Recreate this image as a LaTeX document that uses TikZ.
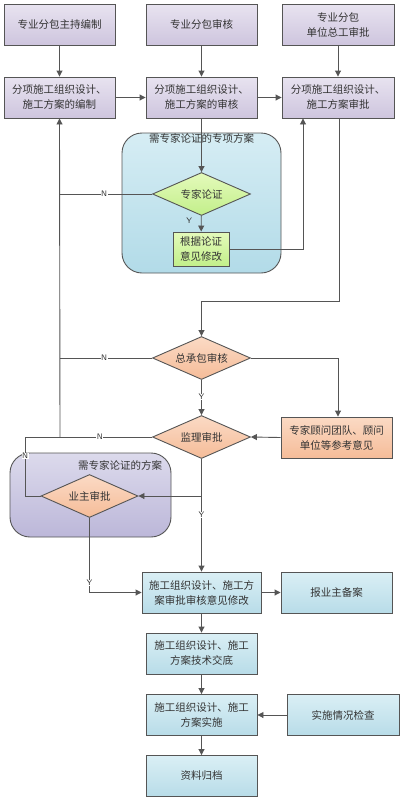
\documentclass[tikz,border=0pt]{standalone}
\usepackage{fontspec}
\setmainfont{Noto Sans CJK SC}
\usetikzlibrary{shapes.geometric,arrows.meta}
\definecolor{ln}{HTML}{555555}
\definecolor{tx}{HTML}{333333}
\definecolor{puT}{HTML}{E8E3F0}
\definecolor{puB}{HTML}{CEC5DE}
\definecolor{blT}{HTML}{DAEFF5}
\definecolor{blB}{HTML}{B8DCE8}
\definecolor{saT}{HTML}{FBDAC4}
\definecolor{saB}{HTML}{F5BC99}
\definecolor{grT}{HTML}{E4FABB}
\definecolor{grB}{HTML}{C2EF8A}
\definecolor{g1T}{HTML}{D6EDF4}
\definecolor{g1B}{HTML}{B2DBE8}
\definecolor{g2T}{HTML}{DCDAEC}
\definecolor{g2B}{HTML}{BCB7D9}
\tikzset{
  box/.style={draw=ln,line width=0.9pt,minimum width=111pt,minimum height=41pt,inner sep=1pt,
    align=center,text=tx,font=\fontsize{10.5}{15}\selectfont},
  purp/.style={box,top color=puT,bottom color=puB},
  blu/.style={box,top color=blT,bottom color=blB},
  grn/.style={box,top color=grT,bottom color=grB},
  sal/.style={box,top color=saT,bottom color=saB},
  dia/.style={diamond,aspect=2.3,draw=ln,line width=0.9pt,minimum width=98pt,minimum height=43pt,inner sep=0pt,
    text=tx,font=\fontsize{10.5}{15}\selectfont},
  sdia/.style={dia,top color=saT,bottom color=saB},
  grp/.style={draw=ln,line width=0.9pt,rounded corners=20pt},
  conn/.style={draw=ln,line width=0.9pt},
  arr/.style={conn,-{Triangle[length=6pt,width=6pt]}},
  yn/.style={fill=white,inner sep=0.5pt,font=\sffamily\fontsize{8}{8}\selectfont,text=tx},
}
\begin{document}
\begin{tikzpicture}[x=1pt,y=-1pt]
\useasboundingbox (0,0) rectangle (403,801);
% containers
\node[grp,top color=g1T,bottom color=g1B,minimum width=159pt,minimum height=140pt] (G1) at (201.5,203) {};
\node[text=tx,font=\fontsize{10.5}{12}\selectfont] (G1l) at (201.5,138) {需专家论证的专项方案};
\node[grp,top color=g2T,bottom color=g2B,minimum width=161pt,minimum height=84pt] (G2) at (90.5,495) {};
\node[text=tx,font=\fontsize{10.5}{12}\selectfont] (G2l) at (120,465) {需专家论证的方案};
% top row
\node[purp] (A1) at (59.5,24.5) {专业分包主持编制};
\node[purp] (A2) at (201.5,24.5) {专业分包审核};
\node[purp,minimum width=112pt] (A3) at (338,24.5) {专业分包\\单位总工审批};
\node[purp] (B1) at (59.5,97.5) {分项施工组织设计、\\施工方案的编制};
\node[purp] (B2) at (201.5,97.5) {分项施工组织设计、\\施工方案的审核};
\node[purp,minimum width=112pt] (B3) at (338,97.5) {分项施工组织设计、\\施工方案审批};
% expert section
\node[dia,top color=grT,bottom color=grB] (D1) at (201.5,194) {专家论证};
\node[grn,minimum width=56pt,minimum height=34pt] (M1) at (201,249) {根据论证\\意见修改};
% decisions
\node[sdia] (D2) at (201.5,358) {总承包审核};
\node[sal,minimum width=111pt] (X) at (336.5,437.5) {专家顾问团队、顾问\\单位等参考意见};
\node[sdia] (D3) at (201.5,437) {监理审批};
\node[sdia,minimum width=97pt] (D4) at (89.5,496) {业主审批};
% bottom
\node[blu,minimum width=119pt] (C1) at (201.5,592.5) {施工组织设计、施工方\\案审批审核意见修改};
\node[blu] (C2) at (336.5,592.5) {报业主备案};
\node[blu] (D) at (201.5,653.5) {施工组织设计、施工\\方案技术交底};
\node[blu] (E) at (201.5,715) {施工组织设计、施工\\方案实施};
\node[blu,minimum width=112pt] (E2) at (343,715) {实施情况检查};
\node[blu] (F) at (201.5,776) {资料归档};
% coordinates
\coordinate (L1) at (60,194);
\coordinate (L2) at (60,358);
\coordinate (L3) at (60,437);
\coordinate (L4) at (25,437);
\coordinate (L5) at (25,496);
\coordinate (R1) at (303,249);
\coordinate (R2) at (339,301);
\coordinate (R3) at (201.5,301);
\coordinate (R4) at (338,358);
\coordinate (J1) at (201.5,496);
\coordinate (J2) at (89.5,592.5);
% connectors
\draw[arr] (A1) -- (B1);
\draw[arr] (A2) -- (B2);
\draw[arr] (A3) -- (B3);
\draw[arr] (B1) -- (B2);
\draw[arr] (B2) -- (D1);
\draw[arr] (B2) -- (B3);
\draw[arr] (D1) -- node[yn,fill=none,pos=0.3,xshift=-12pt]{Y} (M1);
\draw[conn] (D1.west) -- node[yn,pos=0.52]{N} (L1);
\draw[arr] (M1.east) -- (R1) -- (R1 |- B3.south);
\draw[arr] (R2 |- B3.south) -- (R2) -- (R3) -- (D2.north);
\draw[conn] (D2.west) -- node[yn,pos=0.52]{N} (L2);
\draw[arr] (D2.east) -- (R4) -- (R4 |- X.north);
\draw[arr] (D2.south) -- node[yn,pos=0.48]{Y} (D3.north);
\draw[arr] (X.west) -- (D3.east);
\draw[conn] (D3.west) -- node[yn,pos=0.41]{N} (L4) -- node[yn,pos=0.32]{N} (L5) -- (D4.west);
\draw[arr] (L3) -- (B1.south);
\draw[arr] (D3.south) -- (J1) -- (D4.east);
\draw[arr] (J1) -- node[yn,pos=0.25]{Y} (C1.north);
\draw[arr] (D4.south) -- node[yn,pos=0.87]{Y} (J2) -- (C1.west);
\draw[arr] (C1) -- (C2);
\draw[arr] (C1) -- (D);
\draw[arr] (D) -- (E);
\draw[arr] (E2) -- (E);
\draw[arr] (E) -- (F);
\end{tikzpicture}
\end{document}
